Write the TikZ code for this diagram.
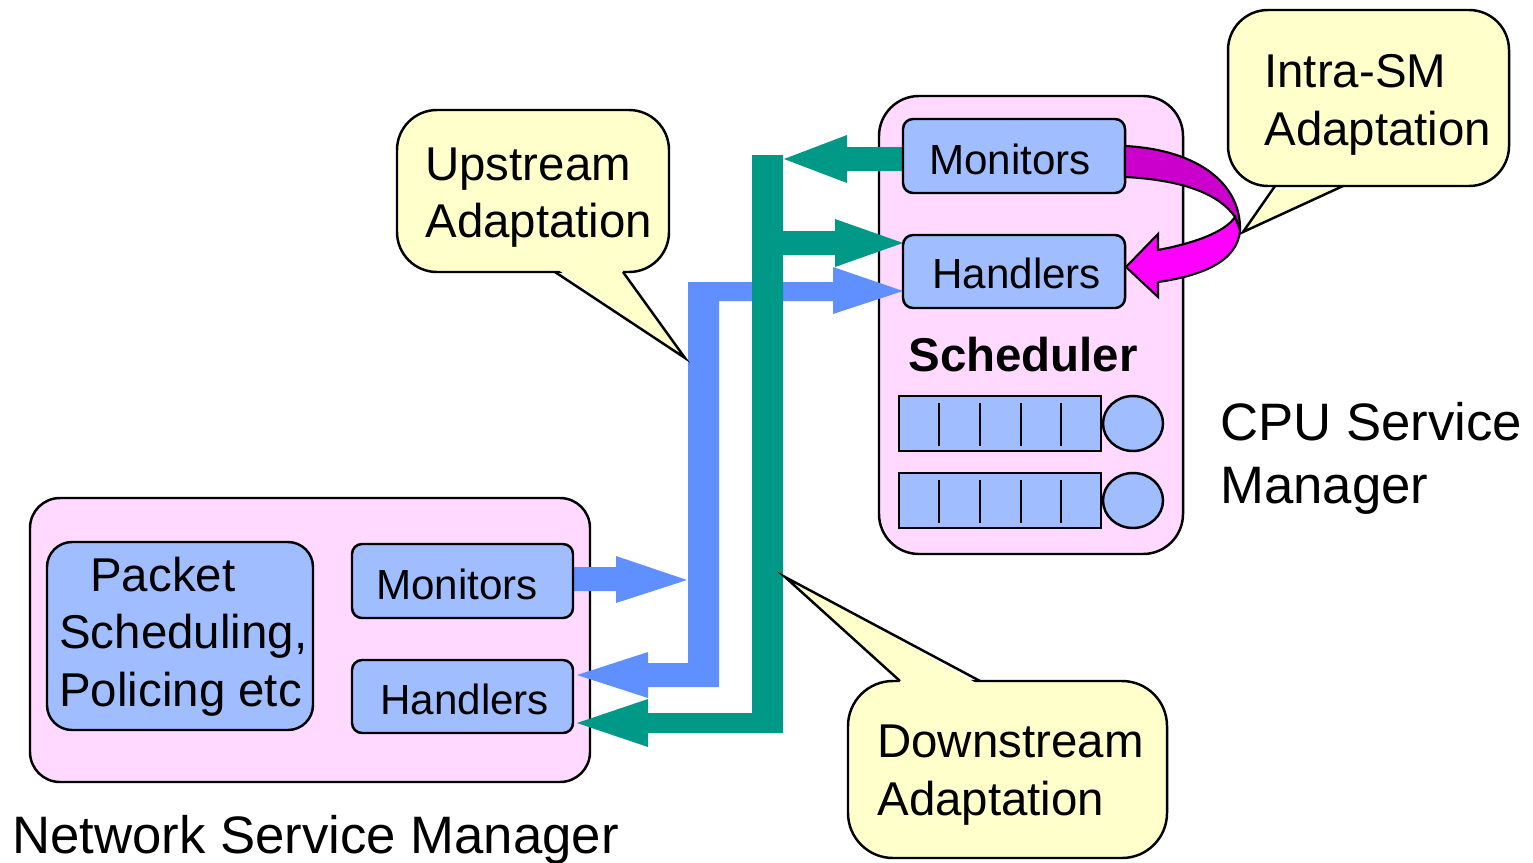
\documentclass[tikz,border=0pt]{standalone}
\usepackage{fontspec}
\setmainfont{Liberation Sans}
\usetikzlibrary{fit,shapes.geometric}
\definecolor{smpink}{RGB}{255,217,255}
\definecolor{boxblue}{RGB}{160,190,255}
\definecolor{noteyellow}{RGB}{255,255,204}
\definecolor{flowteal}{RGB}{0,153,136}
\definecolor{flowblue}{RGB}{96,144,255}
\definecolor{loopdark}{RGB}{204,0,204}
\definecolor{loopbright}{RGB}{255,0,255}

\begin{document}
\begin{tikzpicture}[x=0.02cm,y=-0.02cm,
  outline/.style={draw=black,line width=1.4pt},
  smbox/.style={outline,fill=smpink,inner sep=0pt},
  unitbox/.style={outline,fill=boxblue,inner sep=0pt,rounded corners=0.2cm},
  notebox/.style={outline,fill=noteyellow,inner sep=0pt},
  lbl/.style={anchor=base west,inner sep=0pt,font=\fontsize{24}{28}\selectfont},
  notelbl/.style={anchor=base west,inner sep=0pt,font=\fontsize{27}{32}\selectfont},
  biglbl/.style={anchor=base west,inner sep=0pt,font=\fontsize{30}{36}\selectfont},
  server/.style={outline,fill=boxblue,ellipse,inner sep=0pt,minimum width=1.2cm,minimum height=1.1cm}
]
\path[use as bounding box,fill=white] (0,0) rectangle (1533,862);

% service manager frames
\node[smbox,rounded corners=0.6cm,fit={(30,498) (590,782)}] (nsm) {};
\node[smbox,rounded corners=0.8cm,fit={(879,96) (1183,554)}] (csm) {};

% adaptation flows
\fill[flowblue] (688,282) -- (833,282) -- (833,267) -- (903,291) -- (833,314) -- (833,301)
  -- (719,301) -- (719,687) -- (648,687) -- (648,698) -- (577,675) -- (648,652) -- (648,663)
  -- (688,663) -- cycle;
\fill[flowblue] (573,567) -- (616,567) -- (616,556) -- (687,580) -- (616,603) -- (616,591)
  -- (573,591) -- cycle;
\fill[flowteal] (903,147) -- (847,147) -- (847,135) -- (784,159) -- (847,183) -- (847,171)
  -- (903,171) -- cycle;
\fill[flowteal] (752,155) -- (783,155) -- (783,733) -- (648,733) -- (648,747) -- (577,723)
  -- (648,699) -- (648,713) -- (752,713) -- cycle;
\fill[flowteal] (783,231) -- (835,231) -- (835,219) -- (903,243) -- (835,267) -- (835,255)
  -- (783,255) -- cycle;

% network service manager contents
\node[unitbox,rounded corners=0.5cm,fit={(47,542) (313,730)}] (pkt) {};
\node[unitbox,fit={(352,544) (573,618)}] (nmon) {};
\node[unitbox,fit={(352,660) (573,733)}] (nhand) {};
\node[notelbl] (pkt1) at (90,591) {Packet};
\node[notelbl] (pkt2) at (59,648) {Scheduling,};
\node[notelbl] (pkt3) at (59,706) {Policing etc};
\node[lbl] (nmonl) at (376,599) {Monitors};
\node[lbl] (nhandl) at (380,714) {Handlers};

% CPU service manager contents
\node[unitbox,fit={(903,119) (1125,193)}] (cmon) {};
\node[unitbox,fit={(903,235) (1125,308)}] (chand) {};
\node[lbl] (cmonl) at (929,174) {Monitors};
\node[lbl] (chandl) at (932,288) {Handlers};
\node[anchor=base west,inner sep=0pt,font=\fontsize{27}{32}\selectfont\bfseries] (sched) at (908,371) {Scheduler};

\node[outline,fill=boxblue,inner sep=0pt,fit={(899,396) (1101,451)}] (q1) {};
\node[outline,fill=boxblue,inner sep=0pt,fit={(899,473) (1101,528)}] (q2) {};
\foreach \x in {939,980,1021,1061} {
  \draw[line width=1.4pt] (\x,403) -- (\x,446);
  \draw[line width=1.4pt] (\x,480) -- (\x,523);
}
\node[server] (s1) at (1133,423.5) {};
\node[server] (s2) at (1133,500.5) {};

% intra-SM loop from monitors back to handlers
\filldraw[fill=loopdark,draw=black,line width=1.2pt,line join=round]
  (1125,146) .. controls (1200,150) and (1241,185) .. (1240,230)
  -- (1235,217) .. controls (1220,195) and (1185,180) .. (1125,177) -- cycle;
\filldraw[fill=loopbright,draw=black,line width=1.2pt,line join=miter]
  (1240,230) .. controls (1238,262) and (1200,276) .. (1158,282)
  -- (1158,297) -- (1126,267) -- (1158,234) -- (1158,250)
  .. controls (1195,243) and (1225,232) .. (1235,217) -- cycle;

% manager names
\node[biglbl] (cpu1) at (1220,440) {CPU Service};
\node[biglbl] (cpu2) at (1220,503) {Manager};
\node[biglbl] (net) at (12,853) {Network Service Manager};

% callouts
\node[notebox,rounded corners=0.8cm,fit={(397,110) (669,272)}] (upc) {};
\fill[noteyellow] (557,269) -- (685,358) -- (621,269) -- cycle;
\draw[outline,line join=miter] (555,272) -- (685,358) -- (623,272);
\node[notelbl] (up1) at (425,180) {Upstream};
\node[notelbl] (up2) at (425,237) {Adaptation};

\node[notebox,rounded corners=0.8cm,fit={(1228,10) (1509,186)}] (inc) {};
\fill[noteyellow] (1277,189) -- (1243,232) -- (1341,189) -- cycle;
\draw[outline,line join=miter] (1275,186) -- (1243,232) -- (1343,186);
\node[notelbl] (in1) at (1264,87) {Intra-SM};
\node[notelbl] (in2) at (1264,145) {Adaptation};

\node[notebox,rounded corners=0.9cm,fit={(848,681) (1167,858)}] (dnc) {};
\fill[noteyellow] (902,684) -- (785,577) -- (978,684) -- cycle;
\draw[outline,line join=miter] (900,681) -- (785,577) -- (980,681);
\node[notelbl] (dn1) at (877,757) {Downstream};
\node[notelbl] (dn2) at (877,815) {Adaptation};
\end{tikzpicture}
\end{document}
